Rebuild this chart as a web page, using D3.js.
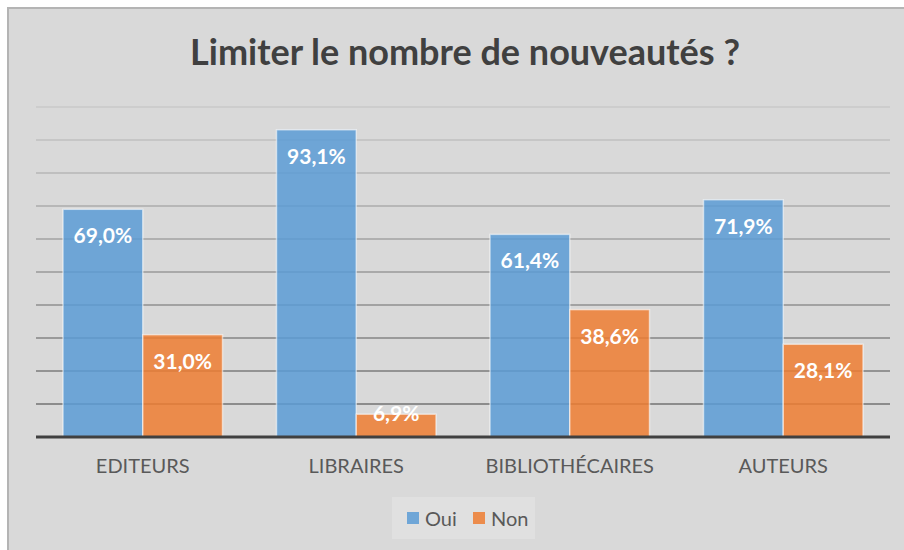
<html lang="fr">
<head>
  <meta charset="UTF-8"/>
  <title>Limiter le nombre de nouveautés ?</title>
  <script src="https://d3js.org/d3.v7.min.js"></script>
  <style>
    body { margin: 0; background: #ffffff; }
    text { font-family: Lato, "Open Sans", sans-serif; }
  </style>
</head>
<body>
<svg id="chart"></svg>
<script>
// data
var categories = ["EDITEURS", "LIBRAIRES", "BIBLIOTHÉCAIRES", "AUTEURS"];
var series = ["Oui", "Non"];
var oui = [69.0, 93.1, 61.4, 71.9];
var non = [31.0, 6.9, 38.6, 28.1];
var colors = ["#5b9bd5", "#ed7d31"];
var gridTicks = [10, 20, 30, 40, 50, 60, 70, 80, 90, 100];

var width = 904, height = 550;
var cx = 465; // centre of the chart area (frame runs past the right edge)

var svg = d3.select("#chart").attr("width", width).attr("height", height);

// chart area
svg.append("rect")
    .attr("x", 8).attr("y", 8)
    .attr("width", 930).attr("height", 560)
    .attr("fill", "#d9d9d9")
    .attr("stroke", "#b4b4b4")
    .attr("stroke-width", 2);

// title
svg.append("text")
    .attr("x", cx).attr("y", 65)
    .attr("text-anchor", "middle")
    .attr("font-size", 36)
    .attr("font-weight", "bold")
    .attr("fill", "#404040")
    .text("Limiter le nombre de nouveautés ?");

var x0 = d3.scaleBand().domain(categories).range([36, 890]);
var x1 = d3.scaleBand().domain(series).range([27, x0.bandwidth() - 27]);
var y = d3.scaleLinear().domain([0, 100]).range([437, 107]);
var gridColor = d3.scaleLinear().domain([10, 100]).range(["#8c8c8c", "#cdcdcd"]);

// gridlines
svg.append("g").selectAll("line")
    .data(gridTicks)
    .join("line")
    .attr("x1", 36).attr("x2", 890)
    .attr("y1", function(d){ return y(d); })
    .attr("y2", function(d){ return y(d); })
    .attr("stroke", function(d){ return gridColor(d); })
    .attr("stroke-width", 2);

var rows = categories.map(function(c, i){
    return [{cat: c, s: "Oui", v: oui[i]}, {cat: c, s: "Non", v: non[i]}];
});

var groups = svg.append("g").selectAll("g")
    .data(rows)
    .join("g")
    .attr("transform", function(d){ return "translate(" + x0(d[0].cat) + ",0)"; });

groups.selectAll("rect")
    .data(function(d){ return d; })
    .join("rect")
    .attr("x", function(d){ return x1(d.s); })
    .attr("width", x1.bandwidth())
    .attr("y", function(d){ return y(d.v); })
    .attr("height", function(d){ return y(0) - y(d.v); })
    .attr("fill", function(d){ return colors[series.indexOf(d.s)]; })
    .attr("fill-opacity", 0.85)
    .attr("stroke", "rgba(255,255,255,0.55)")
    .attr("stroke-width", 1.5);

var fmt = function(v){ return v.toFixed(1).replace(".", ",") + "%"; };

groups.selectAll("text")
    .data(function(d){ return d; })
    .join("text")
    .attr("x", function(d){ return x1(d.s) + x1.bandwidth() / 2; })
    .attr("y", function(d){ return Math.min(y(d.v) + 34, y(0) - 16); })
    .attr("text-anchor", "middle")
    .attr("font-size", 21)
    .attr("font-weight", "bold")
    .attr("fill", "#ffffff")
    .text(function(d){ return fmt(d.v); });

// axis line
svg.append("line")
    .attr("x1", 36).attr("x2", 890)
    .attr("y1", y(0)).attr("y2", y(0))
    .attr("stroke", "#404040")
    .attr("stroke-width", 3);

// category labels
svg.append("g").selectAll("text")
    .data(categories)
    .join("text")
    .attr("x", function(d){ return x0(d) + x0.bandwidth() / 2; })
    .attr("y", 473)
    .attr("text-anchor", "middle")
    .attr("font-size", 20)
    .attr("fill", "#595959")
    .text(function(d){ return d; });

// legend
var legend = svg.append("g");
legend.append("rect")
    .attr("x", 392).attr("y", 497)
    .attr("width", 143).attr("height", 42)
    .attr("fill", "#e0e0e0");

var items = legend.selectAll("g")
    .data(series)
    .join("g")
    .attr("transform", function(d, i){ return "translate(" + (407 + i * 66) + ",0)"; });

items.append("rect")
    .attr("x", 0).attr("y", 512)
    .attr("width", 12).attr("height", 12)
    .attr("fill", function(d, i){ return colors[i]; })
    .attr("fill-opacity", 0.85);

items.append("text")
    .attr("x", 18).attr("y", 526)
    .attr("font-size", 20)
    .attr("fill", "#595959")
    .text(function(d){ return d; });
</script>
</body>
</html>
